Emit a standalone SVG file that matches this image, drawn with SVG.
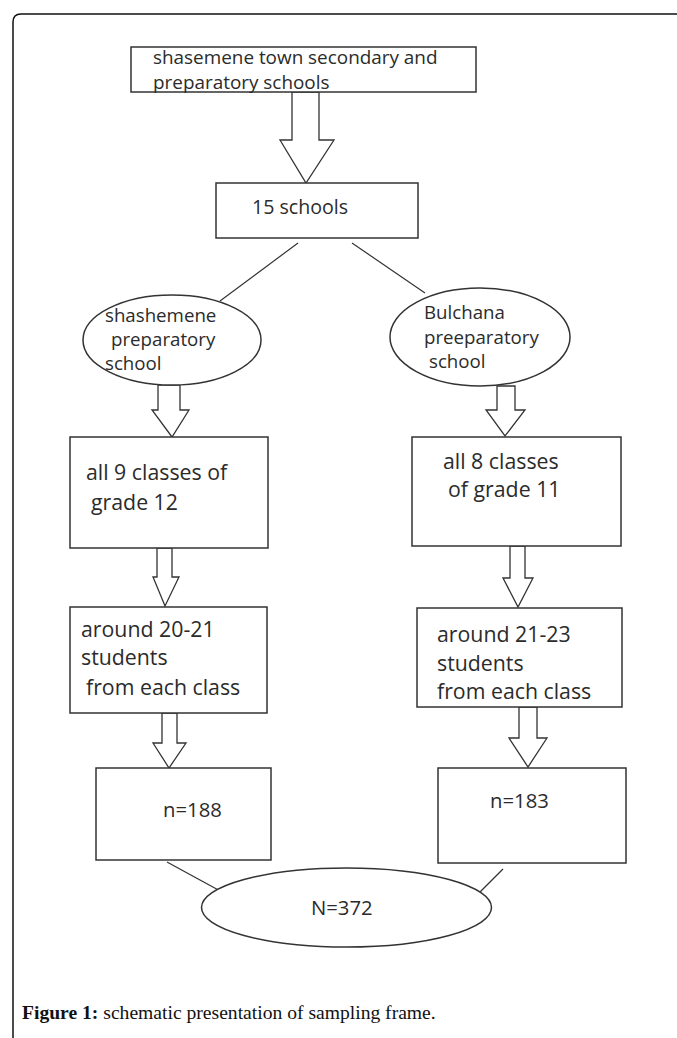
<svg xmlns="http://www.w3.org/2000/svg" width="677" height="1038" viewBox="0 0 677 1038">
<style>
.box{fill:#fff;stroke:#333;stroke-width:1.5}
.arr{fill:#fff;stroke:#333;stroke-width:1.3;stroke-linejoin:miter}
.ln{fill:none;stroke:#333;stroke-width:1.2}
.t{font-family:"Open Sans","Noto Sans",sans-serif;font-size:21.3px;fill:#2b2b2b}
.s19{font-size:18.9px}
.s195{font-size:19.6px}
.s187{font-size:18.7px}
.s20{font-size:20.3px}
.cap{font-family:"Liberation Serif",serif;font-size:19.6px;fill:#111}
</style>
<rect width="677" height="1038" fill="#fff"/>
<path d="M13,1038 V22 Q13,14 21,14 H677" fill="none" stroke="#111" stroke-width="1.5"/>
<g id="connectors">
<path class="arr" d="M292,92 V140 H280 L306,183 L334,140 H319 V92 Z"/>
<line class="ln" x1="298" y1="243" x2="220" y2="301"/>
<line class="ln" x1="352" y1="243" x2="425" y2="293"/>
<path class="arr" d="M158,385 V410 H152 L172,437 L189,410 H180 V385 Z"/>
<path class="arr" d="M497,386 V410 H486 L505,436 L525,410 H515 V386 Z"/>
<path class="arr" d="M157,548 V577 H153 L165,606 L179,577 H172 V548 Z"/>
<path class="arr" d="M510,546 V578 H503 L518,607 L533,578 H525 V546 Z"/>
<path class="arr" d="M162,713 V743 H153 L169,768 L186,743 H177 V713 Z"/>
<path class="arr" d="M519,707 V738 H509 L528,767 L547,738 H537 V707 Z"/>
<line class="ln" x1="167" y1="862" x2="233" y2="898"/>
<line class="ln" x1="503" y1="869" x2="480" y2="892"/>
</g>
<g id="n-top">
<rect class="box" x="131" y="47" width="345" height="45"/>
<text class="t s19" x="153" y="64">shasemene town secondary and</text>
<text class="t s19" x="153" y="88.5">preparatory schools</text>
</g>
<g id="n-15">
<rect class="box" x="216" y="183" width="202" height="55"/>
<text class="t s195" x="252" y="214">15 schools</text>
</g>
<g id="n-shash">
<ellipse class="box" cx="172" cy="340" rx="89" ry="45"/>
<text class="t s187" x="105" y="322">shashemene</text>
<text class="t s187" x="111" y="346">preparatory</text>
<text class="t s187" x="105" y="370">school</text>
</g>
<g id="n-bulch">
<ellipse class="box" cx="480" cy="337" rx="90" ry="49"/>
<text class="t s187" x="424" y="319">Bulchana</text>
<text class="t s187" x="424" y="344">preeparatory</text>
<text class="t s187" x="429" y="368">school</text>
</g>
<g id="n-all9">
<rect class="box" x="70" y="437" width="198" height="111"/>
<text class="t" x="86" y="480">all 9 classes of</text>
<text class="t" x="91" y="510">grade 12</text>
</g>
<g id="n-all8">
<rect class="box" x="412" y="437" width="209" height="109"/>
<text class="t" x="443" y="469">all 8 classes</text>
<text class="t" x="448" y="497">of grade 11</text>
</g>
<g id="n-ar20">
<rect class="box" x="70" y="607" width="197" height="106"/>
<text class="t" x="81" y="637">around 20-21</text>
<text class="t" x="81" y="665">students</text>
<text class="t" x="86" y="695">from each class</text>
</g>
<g id="n-ar21">
<rect class="box" x="417" y="608" width="205" height="99"/>
<text class="t" x="437" y="642">around 21-23</text>
<text class="t" x="437" y="671">students</text>
<text class="t" x="437" y="699">from each class</text>
</g>
<g id="n-188">
<rect class="box" x="96" y="768" width="175" height="92"/>
<text class="t s20" x="163" y="817">n=188</text>
</g>
<g id="n-183">
<rect class="box" x="438" y="768" width="188" height="95"/>
<text class="t s20" x="490" y="808">n=183</text>
</g>
<g id="n-372">
<ellipse class="box" cx="346.5" cy="907.5" rx="145" ry="39.5"/>
<text class="t s20" x="311" y="915">N=372</text>
</g>
<text class="cap" x="22" y="1019"><tspan font-weight="bold">Figure 1:</tspan> schematic presentation of sampling frame.</text>
</svg>
